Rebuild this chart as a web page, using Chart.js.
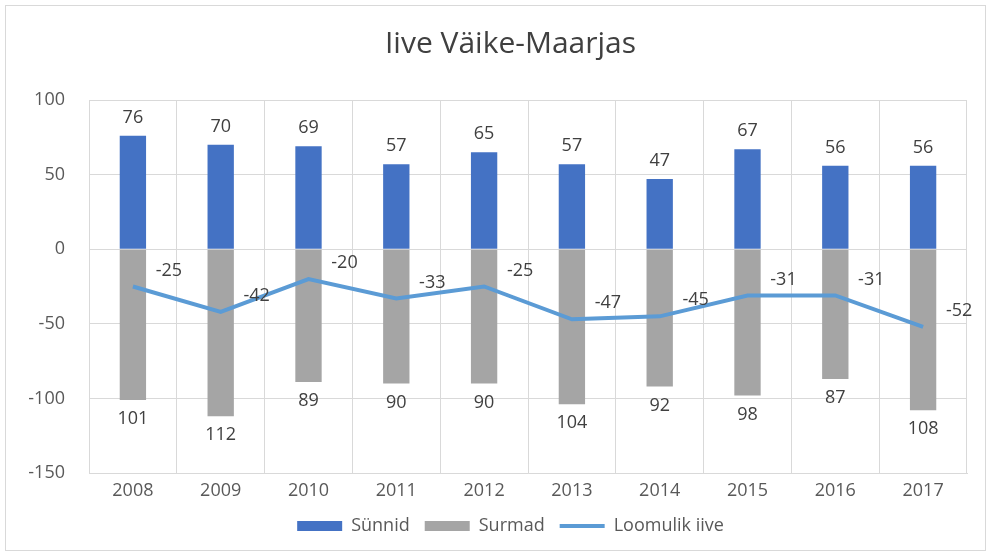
<!DOCTYPE html>
<html>
<head>
<meta charset="utf-8">
<script src="https://cdn.jsdelivr.net/npm/chart.js@4.4.1/dist/chart.umd.min.js"></script>
<style>
    html, body { margin: 0; padding: 0; background: #ffffff; }
    .page-container { position: relative; width: 990px; height: 556px; }
    .marco {
        position: absolute; left: 5px; top: 5px; width: 979px; height: 544px;
        border: 1px solid #d9d9d9; pointer-events: none;
    }
</style>
</head>
<body>
<div class="page-container">
    <canvas id="chartIive" width="990" height="556"></canvas>
    <div class="marco"></div>
</div>
<script>
// Andmed (loetud pildilt)
const aastad = ['2008', '2009', '2010', '2011', '2012', '2013', '2014', '2015', '2016', '2017'];
const sunnid = [76, 70, 69, 57, 65, 57, 47, 67, 56, 56];
const surmad = [-101, -112, -89, -90, -90, -104, -92, -98, -87, -108];
const loomulikIive = [-25, -42, -20, -33, -25, -47, -45, -31, -31, -52];
const yTicks = [100, 50, 0, -50, -100, -150];

const FONT = "'Open Sans', 'Noto Sans', sans-serif";

const iiveModule = {
    chart: null,

    colors: {
        sunnid: '#4472c4',
        surmad: '#a5a5a5',
        iive: '#5b9bd5',
        grid: '#d9d9d9',
        text: '#595959'
    },

    // Väärtuste sildid tulpadele ja joonele
    labelsPlugin: {
        id: 'vaartused',
        afterDatasetsDraw(chart) {
            const ctx = chart.ctx;
            ctx.save();
            ctx.font = '18px ' + FONT;
            ctx.fillStyle = '#404040';
            ctx.textAlign = 'center';
            chart.data.datasets.forEach((ds, i) => {
                const meta = chart.getDatasetMeta(i);
                meta.data.forEach((el, j) => {
                    const v = ds.data[j];
                    if (ds.type === 'line') {
                        ctx.textBaseline = 'middle';
                        ctx.fillText(String(v), el.x + 36, el.y - 16);
                    } else if (v >= 0) {
                        ctx.textBaseline = 'bottom';
                        ctx.fillText(String(v), el.x, el.y - 9);
                    } else {
                        ctx.textBaseline = 'top';
                        ctx.fillText(String(Math.abs(v)), el.x, el.y + 10);
                    }
                });
            });
            ctx.restore();
        }
    },

    // Y-telje sildid joonistame ise, et need ei jääks kitsa teljekasti taha
    yLabelsPlugin: {
        id: 'yLabels',
        afterDraw(chart) {
            const ctx = chart.ctx;
            const y = chart.scales.y;
            ctx.save();
            ctx.font = '18px ' + FONT;
            ctx.fillStyle = '#595959';
            ctx.textAlign = 'right';
            ctx.textBaseline = 'middle';
            y.ticks.forEach(t => {
                ctx.fillText(String(t.value), chart.chartArea.left - 24, y.getPixelForValue(t.value));
            });
            ctx.restore();
        }
    },

    init: function() {
        const ctx = document.getElementById('chartIive').getContext('2d');
        this.chart = new Chart(ctx, {
            data: {
                labels: aastad,
                datasets: [
                    {
                        type: 'bar',
                        label: 'Sünnid',
                        data: sunnid,
                        backgroundColor: this.colors.sunnid,
                        borderWidth: 0,
                        pointStyle: 'rect',
                        barPercentage: 0.6,
                        categoryPercentage: 0.5,
                        stack: 'tulbad',
                        order: 1
                    },
                    {
                        type: 'bar',
                        label: 'Surmad',
                        data: surmad,
                        backgroundColor: this.colors.surmad,
                        borderWidth: 0,
                        pointStyle: 'rect',
                        barPercentage: 0.6,
                        categoryPercentage: 0.5,
                        stack: 'tulbad',
                        order: 1
                    },
                    {
                        type: 'line',
                        label: 'Loomulik iive',
                        data: loomulikIive,
                        borderColor: this.colors.iive,
                        backgroundColor: this.colors.iive,
                        borderWidth: 4,
                        pointRadius: 0,
                        pointStyle: 'line',
                        tension: 0,
                        stack: 'iive',
                        order: 0
                    }
                ]
            },
            options: {
                responsive: false,
                animation: false,
                // vasak polsterdus nihutab pealkirja ja legendi keskele nagu Excelis
                layout: { padding: { left: 54, right: 23, top: 0, bottom: 11 } },
                scales: {
                    x: {
                        stacked: true,
                        grid: { color: this.colors.grid, offset: true, drawTicks: false },
                        border: { color: this.colors.grid },
                        ticks: { color: this.colors.text, font: { size: 18, family: FONT }, padding: 7 },
                        afterFit: (scale) => { scale.height = 29; }
                    },
                    y: {
                        stacked: true,
                        min: -150,
                        max: 100,
                        afterBuildTicks: (scale) => {
                            scale.ticks = yTicks.map(v => ({ value: v }));
                        },
                        grid: { color: this.colors.grid, drawTicks: false },
                        border: { color: this.colors.grid },
                        ticks: { display: false },
                        afterFit: (scale) => { scale.width = 35; }
                    }
                },
                plugins: {
                    title: {
                        display: true,
                        text: 'Iive Väike-Maarjas',
                        color: '#404040',
                        font: { size: 30, family: FONT, weight: 'normal' },
                        padding: { top: 26, bottom: 38 }
                    },
                    legend: {
                        position: 'bottom',
                        labels: {
                            color: this.colors.text,
                            font: { size: 18, family: FONT },
                            usePointStyle: true,
                            pointStyleWidth: 45,
                            boxHeight: 10,
                            padding: 15,
                            sort: (a, b) => a.datasetIndex - b.datasetIndex
                        }
                    },
                    tooltip: { enabled: false }
                }
            },
            plugins: [this.labelsPlugin, this.yLabelsPlugin]
        });
    }
};

iiveModule.init();
</script>
</body>
</html>
